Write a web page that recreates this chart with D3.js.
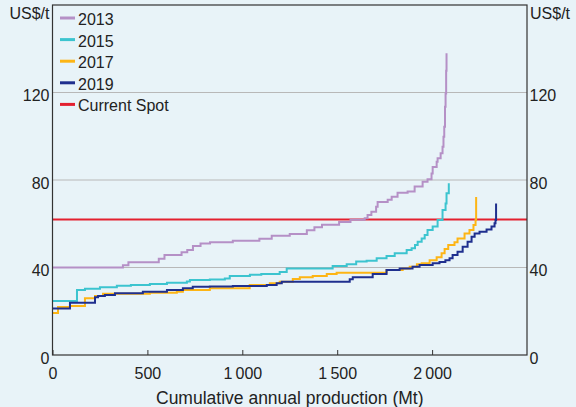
<!DOCTYPE html>
<html>
<head>
<meta charset="utf-8">
<script src="https://cdn.jsdelivr.net/npm/d3@7"></script>
<style>
  html, body { margin: 0; padding: 0; background: #e8f3f8; }
  svg { display: block; font-family: "Liberation Sans", Arial, sans-serif; }
  .label { font-size: 16px; fill: #222; }
  .title { font-size: 17.5px; fill: #222; }
</style>
</head>
<body>
<div id="chart"></div>
<script>
// Cost curves: [cumulative production (Mt), cost (US$/t)]
const s2013 = [[0,40],[371,41],[400,42.4],[560,44],[590,45.7],[680,47],[710,48],[740,49.8],[780,51],[830,51.5],
  [950,52.2],[1090,53.2],[1155,54.5],[1250,55.3],[1340,57],[1380,58.4],[1420,59.5],[1510,60.8],[1570,61.8],
  [1645,62.5],[1660,64],[1680,65.5],[1705,67.8],[1713,70],[1766,71],[1787,72.4],[1818,74.2],[1871,74.8],
  [1908,77],[1950,79.2],[1976,80.3],[1997,83],[2003,86],[2024,88.4],[2029,90],[2045,92.2],[2055,95.2],
  [2060,99.8],[2064,104.4],[2068,113.5],[2071,119.6],[2074,130],[2076,138]];
const s2015 = [[0,24.7],[129,29.7],[171,30.3],[250,31],[339,31.7],[413,32],[513,32.5],[603,33],[708,33.6],
  [724,34.3],[829,34.5],[908,35],[934,36.1],[1040,36.7],[1100,37],[1197,38],[1234,39.6],[1476,40.7],
  [1550,41.5],[1600,42.7],[1655,43.1],[1708,44.2],[1760,45.3],[1803,46.5],[1866,48],[1892,48.8],[1910,50.3],
  [1924,51.8],[1945,53.3],[1961,54.9],[1976,57.1],[2003,58.7],[2029,61.7],[2055,66.3],[2071,69.3],
  [2076,73.9],[2088,78.5]];
const s2017 = [[0,19.2],[29,22],[92,22.4],[171,25.9],[224,27],[266,28],[513,28.5],[655,28.9],[687,29.7],
  [829,30.5],[1039,32],[1145,32.8],[1197,33.5],[1266,34.7],[1303,35.5],[1371,36.1],[1445,37],[1497,37.6],
  [1760,38.9],[1845,39.6],[1882,40.4],[1920,41.5],[1945,42],[1987,43.3],[2024,44.7],[2050,46.5],[2066,48.5],
  [2085,50.3],[2118,51.5],[2134,53.3],[2171,55.6],[2197,57.1],[2218,59.4],[2229,61.7],[2232,72.2]];
const s2019 = [[0,21.3],[92,23.9],[224,26.4],[240,27],[276,27.4],[329,28.2],[476,28.9],[603,29.7],[687,30.5],
  [739,31.2],[829,31.3],[950,31.5],[1129,32],[1181,32.8],[1208,33.5],[1566,34.6],[1582,35.5],[1687,37],
  [1760,38.9],[1829,39.6],[1897,40.4],[1934,41.1],[2003,41.9],[2039,42.5],[2070,43.3],[2092,44.2],[2108,45.7],
  [2134,47.2],[2161,49.5],[2187,51.8],[2208,54.1],[2224,55.6],[2250,56.4],[2287,57.4],[2313,58.7],[2329,60.2],
  [2334,61.7],[2337,69.3]];
const spot = 62;

const seriesNames = ['2013', '2015', '2017', '2019'];
const seriesData = [s2013, s2015, s2017, s2019];
const seriesColors = ['#b590c6', '#3cc4cf', '#fdb515', '#1f2f8e'];
const spotName = 'Current Spot';
const spotColor = '#e3202f';

const xTicks = [0, 500, 1000, 1500, 2000];
const yTicks = [0, 40, 80, 120];

const width = 576;
const height = 407;
const padL = 52.5, padR = 527, padT = 5, padB = 355;

let svg = d3.select('#chart')
  .append('svg')
  .attr('width', width)
  .attr('height', height);

svg.append('rect')
  .attr('width', width)
  .attr('height', height)
  .attr('fill', '#e8f3f8');

let x = d3.scaleLinear().domain([0, 2500]).range([padL, padR]);
let y = d3.scaleLinear().domain([0, 160]).range([padB, padT]);

// Gridlines.
svg.append('g')
  .selectAll('line')
  .data(yTicks.filter(t => t > 0))
  .enter()
  .append('line')
    .attr('x1', padL)
    .attr('x2', padR)
    .attr('y1', d => y(d))
    .attr('y2', d => y(d))
    .attr('stroke', '#b8b8b8')
    .attr('stroke-width', 1);

// Spot price.
svg.append('line')
  .attr('x1', padL)
  .attr('x2', padR)
  .attr('y1', y(spot))
  .attr('y2', y(spot))
  .attr('stroke', spotColor)
  .attr('stroke-width', 2);

// Curves.
let line = d3.line()
  .x(d => x(d[0]))
  .y(d => y(d[1]))
  .curve(d3.curveStepAfter);

svg.append('g')
  .selectAll('path')
  .data(seriesData)
  .enter()
  .append('path')
    .attr('d', d => line(d))
    .attr('fill', 'none')
    .attr('stroke', (d, i) => seriesColors[i])
    .attr('stroke-width', 2)
    .attr('stroke-linejoin', 'miter');

// Frame.
svg.append('rect')
  .attr('x', padL)
  .attr('y', padT)
  .attr('width', padR - padL)
  .attr('height', padB - padT)
  .attr('fill', 'none')
  .attr('stroke', '#333')
  .attr('stroke-width', 1.2);

// X axis.
let fmt = d => d3.format(',')(d).replace(',', '\u2009');
let xAxis = d3.axisBottom(x)
  .tickValues(xTicks)
  .tickSizeInner(-5)
  .tickSizeOuter(0)
  .tickPadding(13)
  .tickFormat(fmt);

let gx = svg.append('g')
  .attr('transform', `translate(0,${padB})`)
  .call(xAxis);
gx.select('.domain').remove();
gx.selectAll('line').attr('stroke', '#333');
gx.selectAll('text')
  .attr('class', 'label')
  .attr('font-family', null)
  .attr('font-size', null)
  .attr('fill', null);

// Y axes (left and right).
let yLeft = d3.axisLeft(y).tickValues(yTicks).tickSize(0).tickPadding(3);
let yRight = d3.axisRight(y).tickValues(yTicks).tickSize(0).tickPadding(2.5);

for (let [axis, pos] of [[yLeft, padL], [yRight, padR]]) {
  let g = svg.append('g')
    .attr('transform', `translate(${pos},0)`)
    .call(axis);
  g.select('.domain').remove();
  g.selectAll('text')
    .attr('class', 'label')
    .attr('font-family', null)
    .attr('font-size', null)
    .attr('fill', null)
    .attr('dy', '0.5em');
}

// Units.
svg.append('text')
  .attr('class', 'label')
  .attr('x', padL - 3)
  .attr('y', 19)
  .attr('text-anchor', 'end')
  .text('US$/t');

svg.append('text')
  .attr('class', 'label')
  .attr('x', padR + 3)
  .attr('y', 19)
  .text('US$/t');

// Axis title.
svg.append('text')
  .attr('class', 'title')
  .attr('x', (padL + padR) / 2)
  .attr('y', 404)
  .attr('text-anchor', 'middle')
  .text('Cumulative annual production (Mt)');

// Legend.
let legendItems = seriesNames.map((n, i) => [n, seriesColors[i]]).concat([[spotName, spotColor]]);
let legend = svg.append('g')
  .selectAll('g')
  .data(legendItems)
  .enter()
  .append('g')
    .attr('transform', (d, i) => `translate(60,${25 + i * 21.6})`);

legend.append('line')
  .attr('x1', 0)
  .attr('x2', 15)
  .attr('y1', -7)
  .attr('y2', -7)
  .attr('stroke', d => d[1])
  .attr('stroke-width', 3);

legend.append('text')
  .attr('class', 'label')
  .attr('x', 18)
  .attr('y', 0)
  .text(d => d[0]);
</script>
</body>
</html>
